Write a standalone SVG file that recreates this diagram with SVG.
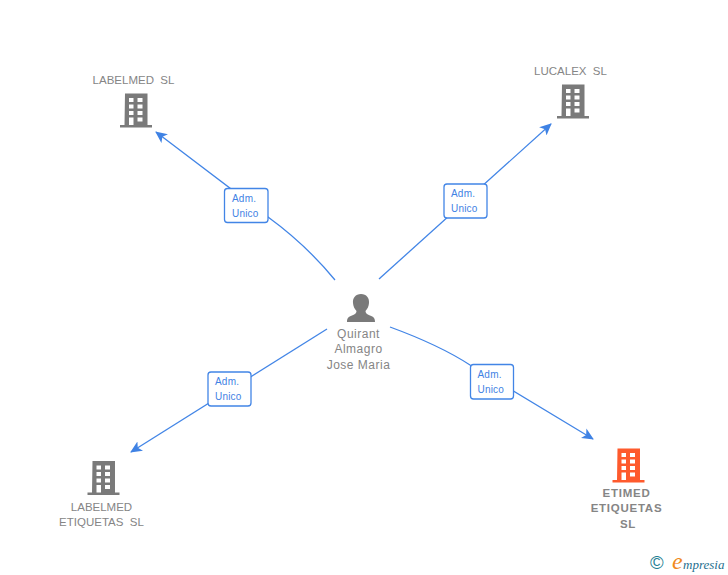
<svg xmlns="http://www.w3.org/2000/svg" width="728" height="575" viewBox="0 0 728 575">
<style>
text{font-family:"Liberation Sans",Arial,sans-serif;white-space:pre}
.n{font-size:11.500px;fill:#858585;text-anchor:middle;letter-spacing:0}
.p{font-size:12px;letter-spacing:.5px}
.b{font-size:11.500px;font-weight:bold;letter-spacing:.75px}
.l{font-size:10px;fill:#3f82e4;letter-spacing:.2px}
.c{fill:none;stroke:#4285e6;stroke-width:1.3}
.box{fill:#fff;stroke:#4285e6;stroke-width:1.3}
</style>
<defs>
<marker id="a" viewBox="0 0 12 12" refX="11" refY="6" markerWidth="12" markerHeight="12" markerUnits="userSpaceOnUse" orient="auto"><path d="M0 .5L12 6L0 11.500L3 6Z" fill="#3f82e4"/></marker>
<symbol id="bld" overflow="visible"><path fill-rule="evenodd" d="M0 0H22.500V31.500H27V34H-5V31.500H-.5ZM4 4.500V8.500H8.500V4.500ZM12.500 4.500V8.500H17.500V4.500ZM4 11V15H8.500V11ZM12.500 11V15H17.500V11ZM4 17.500V21.500H8.500V17.500ZM12.500 17.500V21.500H17.500V17.500ZM4 24V31.500H8.500V24ZM12.500 24V28H17.500V24Z"/></symbol>
</defs>
<g id="connectors">
<path class="c" marker-end="url(#a)" d="M335 280C312 252 290 233 268 217L156 132"/>
<path class="c" marker-end="url(#a)" d="M379 279L551 124"/>
<path class="c" marker-end="url(#a)" d="M327 329L131 452"/>
<path class="c" marker-end="url(#a)" d="M390 327C420 338 447 350 470 365L593 439"/>
</g>
<g id="edge-label-1"><rect class="box" x="224.500" y="188.500" width="43.500" height="34" rx="3"/><text class="l" x="232" y="202">Adm.</text><text class="l" x="232" y="217">Unico</text></g>
<g id="edge-label-2"><rect class="box" x="444" y="184" width="43" height="34" rx="3"/><text class="l" x="451" y="197">Adm.</text><text class="l" x="451" y="212">Unico</text></g>
<g id="edge-label-3"><rect class="box" x="208" y="372" width="43" height="34" rx="3"/><text class="l" x="215" y="385">Adm.</text><text class="l" x="215" y="400">Unico</text></g>
<g id="edge-label-4"><rect class="box" x="470.500" y="364.500" width="43" height="34.500" rx="3"/><text class="l" x="477.500" y="378">Adm.</text><text class="l" x="477.500" y="393">Unico</text></g>
<g id="node-labelmed"><use href="#bld" x="125" y="93.500" fill="#7a7a7a"/><text class="n" x="133.500" y="84">LABELMED  SL</text></g>
<g id="node-lucalex"><use href="#bld" x="562" y="84.500" fill="#7a7a7a"/><text class="n" x="570.500" y="75">LUCALEX  SL</text></g>
<g id="node-labelmed-etiquetas"><use href="#bld" x="92.500" y="461" fill="#7a7a7a"/><text class="n" x="101.500" y="511">LABELMED</text><text class="n" x="101.500" y="526">ETIQUETAS  SL</text></g>
<g id="node-etimed"><use href="#bld" x="617.500" y="448.500" fill="#fe5a2d"/><text class="n b" x="626.500" y="497">ETIMED</text><text class="n b" x="626.500" y="512">ETIQUETAS</text><text class="n b" x="628" y="528">SL</text></g>
<g id="node-person"><path fill="#7a7a7a" d="M361 294C366.500 294 369.500 298 369 303C368.800 306 367.500 309 365.500 311C365.500 313 366.500 314 370 315.500C373.500 316.500 375 318 375 322H347C347 318 348.500 316.500 352 315.500C355.500 314 356.500 313 356.500 311C354.500 309 353.200 306 353 303C352.500 298 355.500 294 361 294Z"/><text class="n p" x="358.500" y="338">Quirant</text><text class="n p" x="358.500" y="353">Almagro</text><text class="n p" x="358.500" y="369">Jose Maria</text></g>
<g id="logo"><text x="650" y="569" font-size="18.500" style="fill:#1f7f94">©</text><text x="672" y="569" font-size="24" style="font-family:'Liberation Serif',serif;font-style:italic;fill:#f08a1d">e</text><text x="683" y="569" font-size="13" style="font-family:'Liberation Serif',serif;font-style:italic;fill:#1f6f8f">mpresia</text></g>
</svg>
